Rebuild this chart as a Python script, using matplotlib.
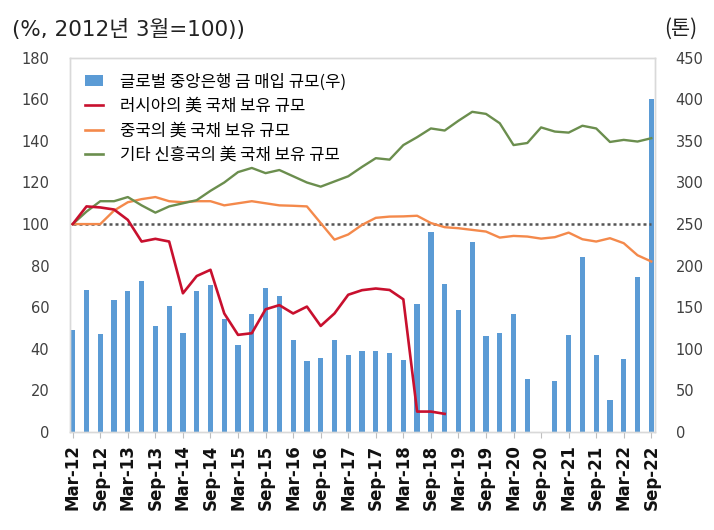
import numpy as np
import matplotlib

matplotlib.use("Agg")
import matplotlib.pyplot as plt
from matplotlib.patches import Patch
from matplotlib.lines import Line2D

KR_FONT = ["Noto Sans CJK KR", "DejaVu Sans"]
WIDE_FONT = ["DejaVu Sans", "Noto Sans CJK KR"]

# 분기별 카테고리 (2012년 3월 ~ 2022년 9월)
QUARTERS = [
    "Mar-12", "Jun-12", "Sep-12", "Dec-12", "Mar-13", "Jun-13", "Sep-13", "Dec-13",
    "Mar-14", "Jun-14", "Sep-14", "Dec-14", "Mar-15", "Jun-15", "Sep-15", "Dec-15",
    "Mar-16", "Jun-16", "Sep-16", "Dec-16", "Mar-17", "Jun-17", "Sep-17", "Dec-17",
    "Mar-18", "Jun-18", "Sep-18", "Dec-18", "Mar-19", "Jun-19", "Sep-19", "Dec-19",
    "Mar-20", "Jun-20", "Sep-20", "Dec-20", "Mar-21", "Jun-21", "Sep-21", "Dec-21",
    "Mar-22", "Jun-22", "Sep-22",
]
TICK_LABELS = [
    "Mar-12", "Sep-12", "Mar-13", "Sep-13", "Mar-14", "Sep-14", "Mar-15", "Sep-15",
    "Mar-16", "Sep-16", "Mar-17", "Sep-17", "Mar-18", "Sep-18", "Mar-19", "Sep-19",
    "Mar-20", "Sep-20", "Mar-21", "Sep-21", "Mar-22", "Sep-22",
]

# 글로벌 중앙은행 금 매입 규모 (톤, 우축)
GOLD_TONS = [
    123, 171, 118, 159, 170, 182, 128, 151, 119, 170, 177, 136, 104, 142, 173, 164,
    111, 85, 89, 110, 93, 97, 97, 95, 86, 154, 240, 178, 147, 228, 115, 119,
    142, 64, 0, 61, 116, 210, 92, 38, 88, 186, 400,
]

# 美 국채 보유 규모 (2012년 3월=100, 좌축)
RUSSIA = [
    100, 108.5, 108, 107, 102, 91.6, 92.9, 91.6, 66.7, 75, 78, 57, 46.7, 47.5,
    59, 61, 57, 60.3, 51, 57, 66, 68.2, 69, 68.3, 63.8, 9.8, 9.8, 8.7,
] + [np.nan] * 15
CHINA = [
    100, 100, 100, 106.5, 110.5, 112, 113, 111, 110.5, 111, 111, 109, 110, 111,
    110, 109, 108.8, 108.5, 100.5, 92.5, 95, 99.6, 103, 103.6, 103.7, 104, 100.5,
    98.5, 98, 97.2, 96.4, 93.5, 94.3, 94, 93, 93.7, 95.9, 92.7, 91.6, 93.2, 90.8,
    85, 82,
]
OTHER_EM = [
    100, 106, 111, 111, 113, 109, 105.5, 108.5, 110, 111.5, 116, 120, 125, 127,
    124.5, 126, 123, 120, 118, 120.5, 123, 127.5, 131.7, 131, 138, 141.8, 146,
    145, 149.7, 154, 153, 148.5, 138, 139, 146.5, 144.5, 144, 147.3, 146, 139.5,
    140.5, 139.7, 141.3,
]
BASE_INDEX = 100

LABELS = [
    "글로벌 중앙은행 금 매입 규모(우)",
    "러시아의 美 국채 보유 규모",
    "중국의 美 국채 보유 규모",
    "기타 신흥국의 美 국채 보유 규모",
]
COLORS = ["#5B9BD5", "#C8102E", "#F4894B", "#6B8E4E"]

x = np.arange(len(QUARTERS))

fig = plt.figure(figsize=(7.14, 5.30), dpi=100)
ax = fig.add_axes([0.098, 0.185, 0.819, 0.706])
ax2 = ax.twinx()
# 선은 막대 위에 그려지도록 좌축을 앞으로
ax.set_zorder(ax2.get_zorder() + 1)
ax.patch.set_visible(False)

ax2.bar(x, GOLD_TONS, width=0.38, color=COLORS[0], zorder=2)

ax.hlines(BASE_INDEX, x[0], x[-1], colors="#555555", linestyles=(0, (1.2, 1.2)),
          linewidth=1.8, zorder=2)
ax.plot(x, RUSSIA, color=COLORS[1], linewidth=1.9, zorder=4)
ax.plot(x, CHINA, color=COLORS[2], linewidth=1.7, zorder=3)
ax.plot(x, OTHER_EM, color=COLORS[3], linewidth=1.7, zorder=3)

ax.set_xlim(-0.2, len(QUARTERS) - 1 + 0.25)
ax.set_ylim(0, 180)
ax.set_yticks(np.arange(0, 181, 20))
ax2.set_ylim(0, 450)
ax2.set_yticks(np.arange(0, 451, 50))

tick_pos = [QUARTERS.index(lbl) for lbl in TICK_LABELS]
ax.set_xticks(tick_pos)
ax.set_xticklabels(TICK_LABELS, rotation=90, fontsize=12, fontweight="bold",
                   color="#111111")
ax.tick_params(axis="x", length=4, width=0.8, color="#BFBFBF", pad=5)
ax.tick_params(axis="y", length=0, pad=15, labelsize=10.5, labelcolor="#404040")
ax2.tick_params(axis="y", length=0, pad=15, labelsize=10.5, labelcolor="#404040")
ax2.tick_params(axis="x", length=0)

for a in (ax, ax2):
    for side in ("top", "bottom", "left", "right"):
        a.spines[side].set_color("#D9D9D9")
        a.spines[side].set_linewidth(1.0)

handles = [
    Patch(facecolor=COLORS[0], edgecolor="none"),
    Line2D([], [], color=COLORS[1], linewidth=1.9),
    Line2D([], [], color=COLORS[2], linewidth=1.9),
    Line2D([], [], color=COLORS[3], linewidth=1.9),
]
ax.legend(handles, LABELS, loc="upper left", bbox_to_anchor=(0.008, 0.985),
          frameon=False, prop={"family": KR_FONT, "size": 12},
          handlelength=1.1, handleheight=0.65, handletextpad=1.05,
          labelspacing=0.45, borderaxespad=0.2)

fig.text(0.017, 0.945, "(%, 2012년 3월=100))", fontsize=15.5, family=WIDE_FONT,
         color="#222222", va="center", ha="left")
fig.text(0.93, 0.945, "(톤)", fontsize=15, family=KR_FONT,
         color="#222222", va="center", ha="left")

fig.savefig("out.png", dpi=100)
